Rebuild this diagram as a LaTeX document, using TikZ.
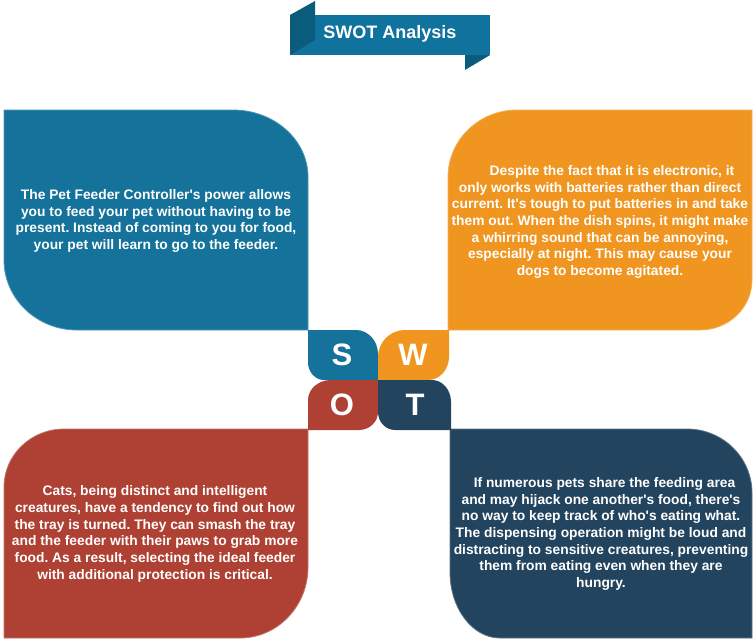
\documentclass[tikz,border=0pt]{standalone}
\usepackage{fontspec}
\newfontfamily\swotfont{Liberation Sans}
\definecolor{sblue}{HTML}{14729B}
\definecolor{worange}{HTML}{F0951F}
\definecolor{ored}{HTML}{AE4133}
\definecolor{tnavy}{HTML}{23445E}
\definecolor{ribbon}{HTML}{10739D}
\definecolor{ribbondark}{HTML}{0B5B7D}
\frenchspacing
\begin{document}
\begin{tikzpicture}[x=1pt,y=-1pt,
  panel/.style={line width=0.8pt},
  body/.style={text=white, inner sep=0pt, align=center,
    font=\swotfont\bfseries\fontsize{13.8}{16.7}\selectfont},
  letter/.style={text=white, inner sep=0pt,
    font=\swotfont\bfseries\fontsize{31}{32}\selectfont},
  heading/.style={text=white, inner sep=0pt,
    font=\swotfont\bfseries\fontsize{18}{20}\selectfont}]
\useasboundingbox (0,0) rectangle (756,643);

% title ribbon
\fill[ribbon] (290,15) rectangle (490,55);
\fill[ribbondark] (290,15) -- (315,1) -- (315,40) -- (290,55) -- cycle;
\fill[ribbondark] (465,55) -- (490,55) -- (465,70) -- cycle;
\node[heading] (title) at (390,34) {SWOT Analysis};

% four quadrant panels
\filldraw[panel, fill=sblue, draw=sblue!75!white]
  (4,110) -- (233,110) .. controls (274.4,110) and (308,140) .. (308,177)
  -- (308,330) -- (77,330) .. controls (36.7,330) and (4,298.6) .. (4,260) -- cycle;
\filldraw[panel, fill=worange, draw=worange!75!white]
  (448,330) -- (448,177) .. controls (448,140) and (478.9,110) .. (517,110)
  -- (752,110) -- (752,280) .. controls (752,307.6) and (728.7,330) .. (700,330) -- cycle;
\filldraw[panel, fill=ored, draw=ored!75!white]
  (4,638) -- (4,487) .. controls (4,455) and (30.9,429) .. (64,429)
  -- (308,429) -- (308,567) .. controls (308,606.2) and (277.5,638) .. (240,638) -- cycle;
\filldraw[panel, fill=tnavy, draw=tnavy!75!white]
  (450,429) -- (687,429) .. controls (722.9,429) and (752,457.7) .. (752,493)
  -- (752,638) -- (500,638) .. controls (472.4,638) and (450,608.4) .. (450,572) -- cycle;

% centre letter tiles
\fill[sblue]
  (308,330) -- (356,330) .. controls (368.1,330) and (378,340.8) .. (378,354)
  -- (378,380) -- (324,380) .. controls (315.2,380) and (308,372.1) .. (308,362) -- cycle;
\fill[worange]
  (378,380) -- (378,357) .. controls (378,342.1) and (390.1,330) .. (405,330)
  -- (449,330) -- (449,357) .. controls (449,369.7) and (439.6,380) .. (428,380) -- cycle;
\fill[ored]
  (308,430) -- (308,400) .. controls (308,389) and (318.3,380) .. (331,380)
  -- (378,380) -- (378,412) .. controls (378,421.9) and (369.5,430) .. (359,430) -- cycle;
\fill[tnavy]
  (378,380) -- (432,380) .. controls (442.5,380) and (451,389.8) .. (451,402)
  -- (451,430) -- (395,430) .. controls (385.6,430) and (378,421.9) .. (378,412) -- cycle;

\node[letter] (S) at (342,355) {S};
\node[letter] (W) at (413,355) {W};
\node[letter] (O) at (342,405) {O};
\node[letter] (T) at (415,405) {T};

% panel texts
\node[body] (strength) at (156,221) {The Pet Feeder Controller's power allows\\
you to feed your pet without having to be\\
present. Instead of coming to you for food,\\
your pet will learn to go to the feeder.};

\node[body] (weakness) at (600,222) {\hspace*{24pt}Despite the fact that it is electronic, it\\
only works with batteries rather than direct\\
current. It's tough to put batteries in and take\\
them out. When the dish spins, it might make\\
a whirring sound that can be annoying,\\
especially at night. This may cause your\\
dogs to become agitated.};

\node[body] (opportunity) at (155,534) {Cats, being distinct and intelligent\\
creatures, have a tendency to find out how\\
the tray is turned. They can smash the tray\\
and the feeder with their paws to grab more\\
food. As a result, selecting the ideal feeder\\
with additional protection is critical.};

\node[body] (threat) at (601,534) {\hspace*{7pt}If numerous pets share the feeding area\\
and may hijack one another's food, there's\\
no way to keep track of who's eating what.\\
The dispensing operation might be loud and\\
distracting to sensitive creatures, preventing\\
them from eating even when they are\\
hungry.};
\end{tikzpicture}
\end{document}
